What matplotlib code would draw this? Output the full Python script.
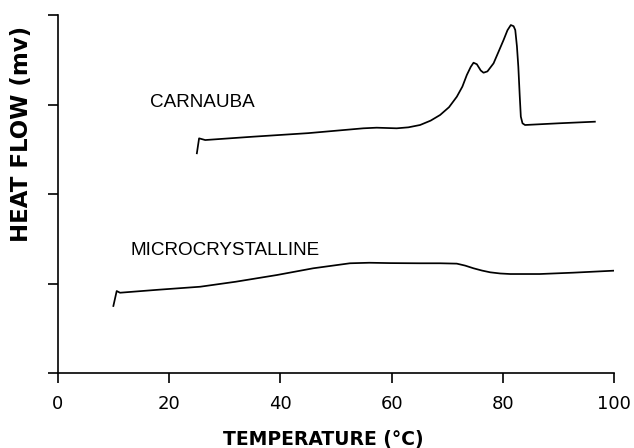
import matplotlib
matplotlib.use("Agg")
import matplotlib.pyplot as plt

# ---- data ----
carnauba_x = [25.0, 25.4, 26.5, 35, 45, 54.9, 57.3, 60.9, 63, 65.1, 67, 68.7, 70.3, 71.7,
              72.7, 73.5, 74.2, 74.7, 75.3, 76.0, 76.5, 77.2, 78.3, 79.2, 80.1, 80.8,
              81.4, 81.9, 82.2, 82.5, 82.75, 83.0, 83.2, 83.5, 83.95, 90, 96.5]
carnauba_y = [2.455, 2.622, 2.603, 2.64, 2.68, 2.734, 2.741, 2.734, 2.745, 2.771, 2.82,
              2.883, 2.97, 3.087, 3.2, 3.33, 3.42, 3.467, 3.45, 3.38, 3.355, 3.37, 3.46,
              3.59, 3.721, 3.83, 3.888, 3.875, 3.832, 3.65, 3.422, 3.1, 2.864, 2.79,
              2.771, 2.79, 2.808]

micro_x = [10.0, 10.6, 11.2, 18, 25.6, 32, 39.4, 45.9, 52.5, 56, 59.7, 65, 68.7, 71.7,
           73.2, 74.7, 76.2, 77.7, 79.5, 81.3, 86.6, 92.6, 99.8]
micro_y = [0.749, 0.916, 0.897, 0.93, 0.964, 1.02, 1.095, 1.170, 1.226, 1.232, 1.228,
           1.226, 1.226, 1.222, 1.20, 1.170, 1.145, 1.125, 1.112, 1.106, 1.106, 1.121,
           1.143]

x_ticks = [0, 20, 40, 60, 80, 100]
y_ticks = [0, 1, 2, 3, 4]
series_labels = ["CARNAUBA", "MICROCRYSTALLINE"]
x_label = "TEMPERATURE (°C)"
y_label = "HEAT FLOW (mv)"

plt.rcParams['font.family'] = ['Liberation Sans', 'DejaVu Sans']

fig = plt.figure(figsize=(6.34, 4.48), dpi=100)
ax = fig.add_axes([0.091, 0.1674, 0.878, 0.7991])

ax.plot(carnauba_x, carnauba_y, color='black', lw=1.25)
ax.plot(micro_x, micro_y, color='black', lw=1.25)

ax.text(16.6, 2.97, series_labels[0], fontsize=13.6, ha='left', va='baseline')
ax.text(13.0, 1.318, series_labels[1], fontsize=13.6, ha='left', va='baseline')

ax.set_xlim(0, 100)
ax.set_ylim(0, 4)
ax.set_xticks(x_ticks)
ax.set_xticklabels([str(v) for v in x_ticks], family='DejaVu Sans')
ax.set_yticks(y_ticks)
ax.set_yticklabels([])

for s in ['top', 'right']:
    ax.spines[s].set_visible(False)
for s in ['left', 'bottom']:
    ax.spines[s].set_linewidth(1.2)

ax.tick_params(axis='both', direction='out', length=7, width=1.2, labelsize=13, pad=9)

ax.set_xlabel(x_label, fontsize=13.5, fontweight='bold', family='DejaVu Sans')
ax.xaxis.set_label_coords(0.478, -0.158)
ax.xaxis.label.set_va('top')
ax.set_ylabel(y_label, fontsize=16.5, fontweight='bold', family='DejaVu Sans')
ax.yaxis.set_label_coords(-0.044, 0.668)

fig.savefig("out.png", dpi=100)
